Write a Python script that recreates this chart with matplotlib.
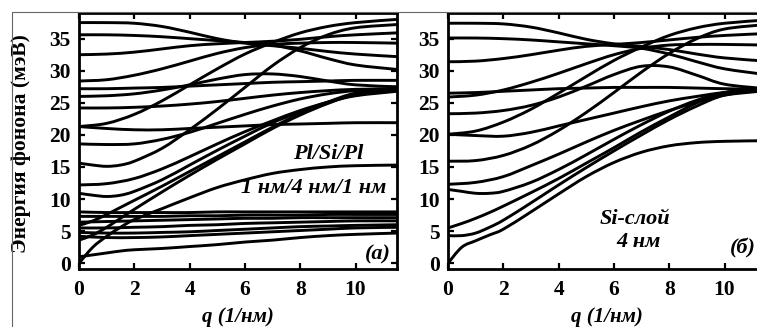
import numpy as np
import matplotlib
matplotlib.use("Agg")
import matplotlib.pyplot as plt
from matplotlib.path import Path
from matplotlib.patches import PathPatch, Rectangle

# q grids (1/nm)
Q = [0, 1, 2, 3, 4, 5, 6, 7, 8, 9, 10, 11.5]
Q_FINE = [0, 0.5, 1, 1.5, 2, 3, 4, 5, 6, 7, 8, 9, 10, 11.5]

# panel (a): Pl/Si/Pl, phonon energies (meV)
a01 = [37.5, 37.5, 37.4, 36.9, 36.0, 35.0, 34.3, 33.9, 33.5, 33.0, 32.6, 32.2]
a02 = [35.6, 35.6, 35.5, 35.3, 35.0, 34.7, 34.4, 34.0, 33.1, 31.9, 30.9, 30.2]
a03 = [32.5, 32.6, 32.9, 33.4, 33.9, 34.2, 34.4, 34.6, 34.9, 35.3, 35.6, 35.9]
a04 = [28.4, 28.6, 29.3, 30.3, 31.5, 32.7, 33.6, 34.1, 34.3, 34.4, 34.4, 34.3]
a05 = [27.2, 27.2, 27.3, 27.4, 27.6, 27.8, 28.0, 28.2, 28.3, 28.4, 28.5, 28.5]
a06 = [26.0, 26.1, 26.4, 27.0, 27.8, 28.7, 29.4, 29.5, 29.1, 28.4, 27.8, 27.5]
a07 = [24.2, 24.2, 24.3, 24.5, 24.8, 25.2, 25.7, 26.2, 26.6, 26.9, 27.1, 27.2]
a08 = [21.3, 21.8, 23.2, 25.3, 27.8, 30.3, 32.6, 34.4, 35.9, 36.9, 37.5, 38.0]
a09 = [21.3, 21.0, 20.8, 20.8, 21.0, 21.2, 21.4, 21.6, 21.7, 21.8, 21.9, 21.9]
a10 = [18.6, 18.5, 18.6, 19.3, 20.4, 21.8, 23.2, 24.5, 25.6, 26.4, 26.9, 27.2]
a12 = [12.2, 12.4, 13.2, 14.7, 16.6, 18.6, 20.5, 22.2, 23.8, 25.1, 26.1, 26.8]
a17 = [8.0, 7.9, 7.9, 7.9, 7.9, 8.0, 8.0, 8.0, 8.0, 8.0, 8.0, 8.0]
a18 = [7.3, 7.3, 7.3, 7.3, 7.4, 7.4, 7.5, 7.5, 7.5, 7.6, 7.6, 7.6]
a19 = [6.4, 6.5, 6.6, 6.7, 6.8, 6.9, 7.0, 7.0, 7.1, 7.1, 7.1, 7.1]
a20 = [5.5, 5.5, 5.6, 5.7, 5.9, 6.0, 6.2, 6.3, 6.4, 6.5, 6.6, 6.6]
a21 = [4.8, 4.7, 4.7, 4.8, 4.9, 5.1, 5.3, 5.5, 5.7, 5.8, 5.9, 6.0]
a22 = [4.2, 4.0, 4.0, 4.1, 4.3, 4.5, 4.7, 4.9, 5.1, 5.3, 5.5, 5.6]
# on the fine grid
a11 = [15.6, 15.3, 15.1, 15.3, 15.9, 17.9, 20.8, 24.0, 27.4, 30.8, 33.6, 35.6, 36.7, 37.2]
a13 = [10.9, 10.6, 10.4, 10.6, 11.2, 13.0, 15.3, 17.6, 19.8, 21.9, 23.6, 25.1, 26.2, 26.9]
a14 = [0.0, 2.5, 4.2, 5.6, 6.8, 8.5, 10.2, 11.8, 13.0, 14.0, 14.6, 15.0, 15.2, 15.3]
a15 = [5.9, 6.6, 7.6, 8.7, 9.8, 12.0, 14.3, 16.6, 18.9, 21.2, 23.3, 25.1, 26.5, 27.2]
a16 = [3.6, 4.4, 5.6, 7.0, 8.4, 11.1, 13.7, 16.2, 18.6, 21.0, 23.1, 24.9, 26.3, 27.1]
a23 = [1.0, 1.3, 1.6, 1.9, 2.1, 2.3, 2.6, 2.9, 3.3, 3.6, 4.0, 4.3, 4.5, 4.7]

# panel (b): Si layer 4 nm
b01 = [37.4, 37.4, 37.3, 36.8, 35.9, 34.9, 34.2, 33.8, 33.3, 32.6, 32.0, 31.5]
b02 = [35.1, 35.1, 35.0, 34.8, 34.5, 34.2, 33.9, 33.5, 32.6, 31.4, 30.3, 29.4]
b03 = [31.4, 31.5, 31.9, 32.5, 33.2, 33.8, 34.1, 34.4, 34.8, 35.2, 35.5, 35.8]
b04 = [25.9, 26.2, 27.0, 28.2, 29.6, 31.1, 32.5, 33.5, 34.0, 34.1, 34.1, 34.0]
b05 = [26.5, 26.6, 26.8, 27.0, 27.2, 27.3, 27.4, 27.4, 27.4, 27.3, 27.2, 27.1]
b06 = [23.3, 23.4, 23.8, 24.6, 25.9, 27.6, 29.4, 30.7, 30.6, 29.3, 27.9, 27.2]
b07 = [20.1, 20.6, 22.0, 24.0, 26.5, 29.1, 31.6, 33.7, 35.5, 36.7, 37.4, 37.9]
b08 = [20.1, 19.9, 19.8, 20.4, 21.4, 22.4, 23.4, 24.4, 25.3, 26.0, 26.6, 27.0]
b09 = [15.9, 16.0, 16.8, 18.4, 20.7, 23.5, 26.6, 29.8, 32.7, 35.0, 36.5, 37.2]
b10 = [12.3, 12.6, 13.5, 15.2, 17.0, 18.9, 20.7, 22.3, 23.8, 25.1, 26.2, 26.9]
# on the fine grid
b11 = [11.5, 11.2, 10.9, 10.9, 11.2, 12.6, 14.6, 16.9, 19.3, 21.6, 23.7, 25.4, 26.6, 27.2]
b12 = [5.5, 6.2, 7.0, 7.9, 8.9, 11.0, 13.2, 15.6, 18.0, 20.5, 22.8, 25.0, 26.6, 27.3]
b13 = [4.3, 4.3, 4.7, 5.6, 6.7, 9.4, 12.2, 14.9, 17.5, 20.0, 22.4, 24.5, 26.2, 27.2]
b14 = [0.0, 2.5, 3.5, 4.4, 5.3, 8.0, 10.8, 13.5, 15.7, 17.3, 18.3, 18.8, 19.0, 19.1]

curves_a = [(Q, c) for c in [a01, a02, a03, a04, a05, a06, a07, a08, a09, a10,
                             a12, a17, a18, a19, a20, a21, a22]] + \
           [(Q_FINE, c) for c in [a11, a13, a14, a15, a16, a23]]
curves_b = [(Q, c) for c in [b01, b02, b03, b04, b05, b06, b07, b08, b09, b10]] + \
           [(Q_FINE, c) for c in [b11, b12, b13, b14]]

W, H = 757, 327
SERIF = "Liberation Serif"


def smooth_path(x, y):
    # Catmull-Rom through the points, drawn as cubic Bezier segments
    pts = np.column_stack([x, y]).astype(float)
    n = len(pts)
    verts = [pts[0]]
    codes = [Path.MOVETO]
    for i in range(n - 1):
        p0 = pts[max(i - 1, 0)]
        p1 = pts[i]
        p2 = pts[i + 1]
        p3 = pts[min(i + 2, n - 1)]
        verts += [p1 + (p2 - p0) / 6, p2 - (p3 - p1) / 6, p2]
        codes += [Path.CURVE4] * 3
    return Path(verts, codes)


def style_axes(ax, xmax):
    ax.set_xlim(0, xmax)
    ax.set_ylim(-0.9, 39.0)
    ax.set_xticks([0, 2, 4, 6, 8, 10])
    ax.set_yticks([0, 5, 10, 15, 20, 25, 30, 35])
    ax.tick_params(direction="in", length=4, width=1.6, top=True, right=True,
                   labelsize=15.5, pad=6)
    ax.tick_params(axis="x", pad=8)
    for lab in ax.get_xticklabels() + ax.get_yticklabels():
        lab.set_fontfamily(SERIF)
        lab.set_fontweight("bold")
    for s in ax.spines.values():
        s.set_linewidth(2.0)
    ax.set_xlabel("q (1/нм)", fontsize=15, fontfamily=SERIF, fontweight="bold",
                  fontstyle="italic", labelpad=5)


fig = plt.figure(figsize=(W / 100, H / 100), dpi=100)
fig.add_artist(Rectangle((12 / W, -0.2), 1.2, 1.2 - 12 / H, transform=fig.transFigure,
                         fill=False, ec="#666666", lw=0.8))

ax_a = fig.add_axes([79 / W, 58 / H, 318 / W, 256 / H])
ax_b = fig.add_axes([448 / W, 58 / H, 318 / W, 256 / H])

for ax, curves in [(ax_a, curves_a), (ax_b, curves_b)]:
    style_axes(ax, 11.5)
    for qx, e in curves:
        ax.add_patch(PathPatch(smooth_path(qx, e), fill=False, ec="black", lw=2.1,
                               capstyle="round", joinstyle="round"))

ax_a.set_ylabel("Энергия фонона (мэВ)", fontsize=15.5, fontfamily=SERIF, fontweight="bold")
ax_a.yaxis.set_label_coords(-0.152, 0.49)

txt = dict(fontfamily=SERIF, fontweight="bold", fontstyle="italic", fontsize=16,
           ha="center", va="center")
ax_a.text(9.0, 17.1, "Pl/Si/Pl", **txt)
ax_a.text(8.5, 11.8, "1 нм/4 нм/1 нм", **txt)
ax_a.text(10.8, 1.3, "(a)", **txt)
ax_b.text(6.75, 6.9, "Si-слой", **txt)
ax_b.text(6.9, 3.3, "4 нм", **txt)
ax_b.text(10.65, 2.3, "(б)", **txt)

fig.savefig("out.png", dpi=100)
